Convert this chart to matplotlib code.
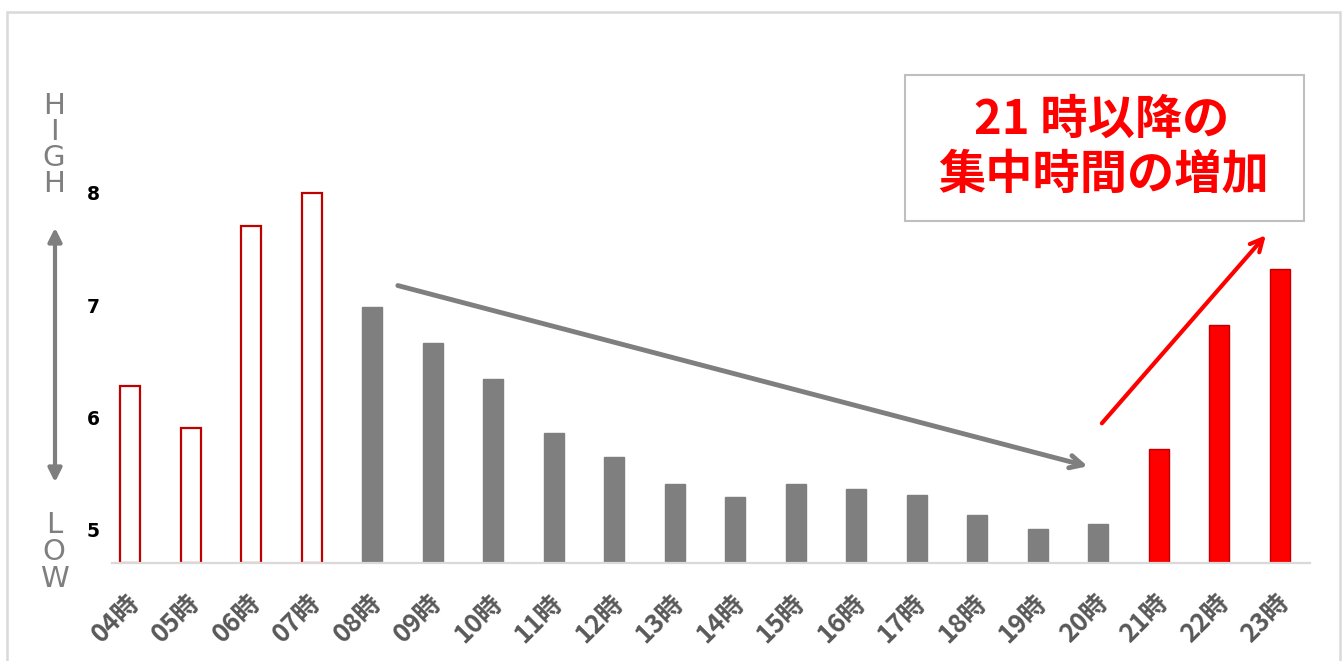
import matplotlib.pyplot as plt
import matplotlib.transforms as mtransforms
from matplotlib.patches import Rectangle, FancyArrowPatch

plt.rcParams['font.family'] = ['Noto Sans CJK JP', 'DejaVu Sans']

hours = ['04時', '05時', '06時', '07時', '08時', '09時', '10時', '11時', '12時', '13時',
         '14時', '15時', '16時', '17時', '18時', '19時', '20時', '21時', '22時', '23時']
focus = [6.28, 5.91, 7.70, 8.00, 6.98, 6.66, 6.34, 5.86, 5.65, 5.41,
         5.29, 5.41, 5.36, 5.31, 5.13, 5.01, 5.05, 5.72, 6.82, 7.32]
# 0 = early morning (outlined), 1 = daytime (gray), 2 = night (red)
group = [0, 0, 0, 0, 1, 1, 1, 1, 1, 1, 1, 1, 1, 1, 1, 1, 1, 2, 2, 2]
yticks = [5, 6, 7, 8]

W, H = 1342, 661
fig = plt.figure(figsize=(W / 100, H / 100), dpi=100)
ax = fig.add_axes([112 / W, 98 / H, 1198 / W, 503 / H])

# outer frame (bottom edge runs off the canvas)
fig.patches.append(Rectangle((7 / W, -20 / H), 1333 / W, (H - 12 + 20) / H,
                             transform=fig.transFigure, fill=False,
                             edgecolor='#D9D9D9', lw=1.8))

base = 4.706
x = list(range(len(hours)))
face = {0: 'white', 1: '#7F7F7F', 2: '#FF0000'}
edge = {0: '#C00000', 1: '#7F7F7F', 2: '#C00000'}
for xi, v, g in zip(x, focus, group):
    ax.bar(xi, v - base, bottom=base, width=0.33, color=face[g],
           edgecolor=edge[g], linewidth=1.6 if g == 0 else 1.0, zorder=2)

ax.set_xlim(-0.3, 19.5)
ax.set_ylim(base, 9.18)
ax.set_yticks(yticks)
ax.set_yticklabels([str(t) for t in yticks], fontsize=13.5, fontweight='bold',
                   color='black', family='DejaVu Sans')
ax.tick_params(axis='y', length=0, pad=9)
ax.set_xticks(x)
ax.set_xticklabels(hours, rotation=45, ha='right', va='top', rotation_mode='anchor',
                   fontsize=18.5, fontweight='bold', color='#595959')
ax.tick_params(axis='x', length=0, pad=19)
shift = mtransforms.ScaledTranslation(-3 / 72, 0, fig.dpi_scale_trans)
for lab in ax.get_xticklabels():
    lab.set_transform(lab.get_transform() + shift)
for s in ['top', 'right', 'left']:
    ax.spines[s].set_visible(False)
ax.spines['bottom'].set_color('#D9D9D9')
ax.spines['bottom'].set_linewidth(1.6)

# HIGH / LOW markers and double arrow on the left
fig.text(54 / W, 1 - 145 / H, 'H\nI\nG\nH', ha='center', va='center',
         fontsize=21, color='#7F7F7F', linespacing=0.92, family='DejaVu Sans')
fig.text(54 / W, 1 - 552 / H, 'L\nO\nW', ha='center', va='center',
         fontsize=21, color='#7F7F7F', linespacing=0.95, family='DejaVu Sans')
fig.patches.append(FancyArrowPatch((55 / W, 1 - 485 / H), (55 / W, 1 - 225 / H),
                                   transform=fig.transFigure,
                                   arrowstyle='<|-|>,head_length=8,head_width=4',
                                   color='#7F7F7F', lw=3))

# trend arrows
ax.annotate('', xy=(15.87, 5.56), xytext=(4.38, 7.18),
            arrowprops=dict(arrowstyle='->,head_length=0.9,head_width=0.45',
                            color='#7F7F7F', lw=3.5))
ax.annotate('', xy=(18.8, 7.64), xytext=(16.03, 5.93),
            arrowprops=dict(arrowstyle='->,head_length=0.9,head_width=0.45',
                            color='#FF0000', lw=3))

# callout box
fig.patches.append(Rectangle((905 / W, 1 - 221 / H), 399 / W, 146 / H,
                             transform=fig.transFigure, facecolor='white',
                             edgecolor='#BFBFBF', lw=1.5))
fig.text(1102 / W, 1 - 120 / H, '21 時以降の', ha='center', va='center',
         fontsize=34, fontweight='bold', color='#FF0000')
fig.text(1104 / W, 1 - 175 / H, '集中時間の増加', ha='center', va='center',
         fontsize=34, fontweight='bold', color='#FF0000')

fig.savefig('out.png', dpi=100)
